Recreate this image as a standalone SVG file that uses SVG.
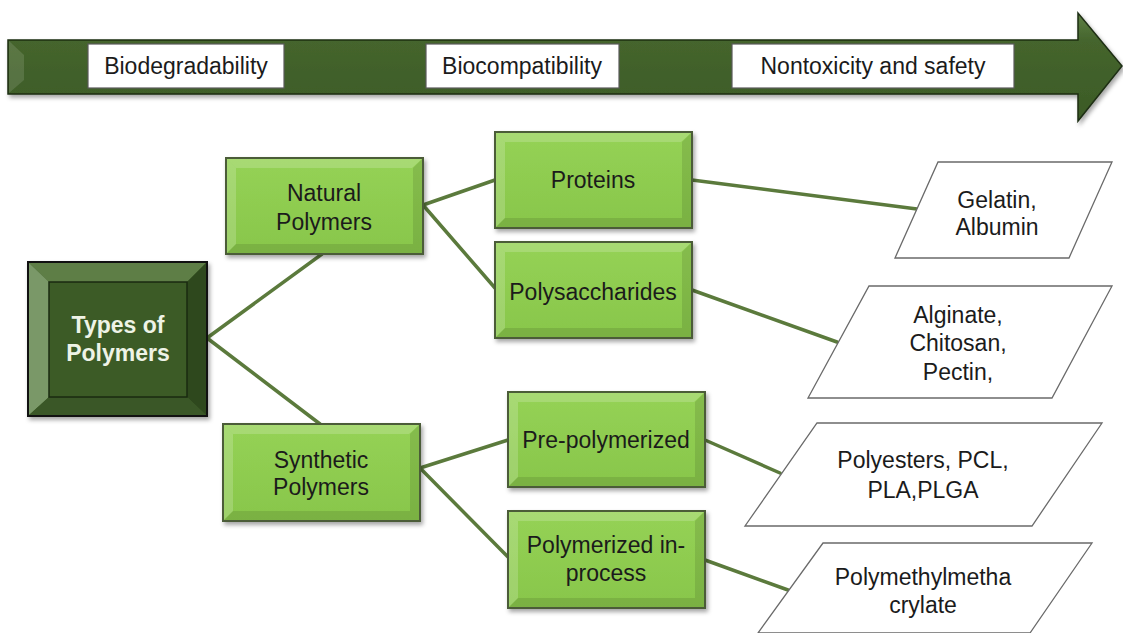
<svg xmlns="http://www.w3.org/2000/svg" width="1123" height="633" viewBox="0 0 1123 633">
<defs>
<linearGradient id="gBanner" x1="0" y1="0" x2="0" y2="1">
<stop offset="0" stop-color="#5f8045"/>
<stop offset="0.25" stop-color="#45652d"/>
<stop offset="1" stop-color="#3b5a26"/>
</linearGradient>
<linearGradient id="gBox" x1="0" y1="0" x2="0" y2="1">
<stop offset="0" stop-color="#95d255"/>
<stop offset="1" stop-color="#88c64b"/>
</linearGradient>
<filter id="sh" x="-10%" y="-10%" width="130%" height="140%">
<feDropShadow dx="2" dy="3" stdDeviation="2" flood-color="#000" flood-opacity="0.35"/>
</filter>
</defs>
<style>
.lbl{font-family:"Liberation Sans",Arial,sans-serif;font-size:23px;fill:#1b1b1b;text-anchor:middle}
.wlbl{font-family:"Liberation Sans",Arial,sans-serif;font-size:23px;font-weight:bold;fill:#eef3e6;text-anchor:middle}
.gbox{fill:url(#gBox);stroke:#4b5c38;stroke-width:2}
.bvl{fill:#ffffff;opacity:0.18}
.bvd{fill:#000000;opacity:0.10}
.wbox{fill:#ffffff;stroke:#5a5a5a;stroke-width:1.2}
.leaf{fill:#ffffff;stroke:#6a6a6a;stroke-width:1.3}
.conn{stroke:#5b7a3c;stroke-width:3.5;fill:none;stroke-linecap:round}
</style>
<rect width="1123" height="633" fill="#ffffff"/>

<g id="banner">
<path d="M8,40 H1078 V13 L1122,66 L1078,121 V94 H8 Z" fill="url(#gBanner)" stroke="#1e2e13" stroke-width="1.5" filter="url(#sh)"/>
<polygon points="9,41 24,55 24,80 9,93" fill="#ffffff" opacity="0.12"/>
<rect class="wbox" x="88" y="44" width="196" height="44"/>
<text class="lbl" x="186" y="74">Biodegradability</text>
<rect class="wbox" x="426" y="44" width="193" height="44"/>
<text class="lbl" x="522" y="74">Biocompatibility</text>
<rect class="wbox" x="732" y="44" width="282" height="44"/>
<text class="lbl" x="873" y="74">Nontoxicity and safety</text>
</g>

<g id="connectors">
<line class="conn" x1="207" y1="338" x2="322" y2="254"/>
<line class="conn" x1="207" y1="338" x2="320" y2="424"/>
<line class="conn" x1="423" y1="205" x2="495" y2="180"/>
<line class="conn" x1="423" y1="205" x2="495" y2="288"/>
<line class="conn" x1="692" y1="180" x2="917" y2="209"/>
<line class="conn" x1="692" y1="290" x2="837" y2="342"/>
<line class="conn" x1="420" y1="468" x2="508" y2="440"/>
<line class="conn" x1="420" y1="468" x2="508" y2="557"/>
<line class="conn" x1="705" y1="440" x2="780" y2="473"/>
<line class="conn" x1="705" y1="560" x2="788" y2="590"/>
</g>

<g id="types-of-polymers">
<rect x="28" y="262" width="179" height="154" fill="#3c5b26" stroke="#111" stroke-width="2" filter="url(#sh)"/>
<polygon points="28,262 207,262 187,282 49,282" fill="#5e7e46"/>
<polygon points="28,262 49,282 49,397 28,416" fill="#7a9868"/>
<polygon points="207,262 207,416 187,397 187,282" fill="#2e481d"/>
<polygon points="28,416 49,397 187,397 207,416" fill="#3a5727"/>
<rect x="49" y="282" width="138" height="115" fill="#3c5b26" stroke="#1a2a10" stroke-width="1.5"/>
<rect x="28" y="262" width="179" height="154" fill="none" stroke="#111" stroke-width="2"/>
<text class="wlbl" x="118" y="333">Types of</text>
<text class="wlbl" x="118" y="361">Polymers</text>
</g>

<g id="natural-polymers">
<rect class="gbox" x="226" y="158" width="197" height="96" filter="url(#sh)"/>
<polygon class="bvl" points="227,159 422,159 412,168 236,168"/>
<polygon class="bvl" points="227,159 236,168 236,244 227,253"/>
<polygon class="bvd" points="422,159 422,253 413,244 413,168"/>
<polygon class="bvd" points="227,253 236,244 413,244 422,253"/>
<text class="lbl" x="324" y="201">Natural</text>
<text class="lbl" x="324" y="230">Polymers</text>
</g>

<g id="proteins">
<rect class="gbox" x="495" y="132" width="197" height="96" filter="url(#sh)"/>
<polygon class="bvl" points="496,133 691,133 681,142 505,142"/>
<polygon class="bvl" points="496,133 505,142 505,218 496,227"/>
<polygon class="bvd" points="691,133 691,227 682,218 682,142"/>
<polygon class="bvd" points="496,227 505,218 682,218 691,227"/>
<text class="lbl" x="593" y="188">Proteins</text>
</g>

<g id="polysaccharides">
<rect class="gbox" x="495" y="242" width="197" height="96" filter="url(#sh)"/>
<polygon class="bvl" points="496,243 691,243 681,252 505,252"/>
<polygon class="bvl" points="496,243 505,252 505,328 496,337"/>
<polygon class="bvd" points="691,243 691,337 682,328 682,252"/>
<polygon class="bvd" points="496,337 505,328 682,328 691,337"/>
<text class="lbl" x="593" y="300">Polysaccharides</text>
</g>

<g id="synthetic-polymers">
<rect class="gbox" x="223" y="424" width="197" height="97" filter="url(#sh)"/>
<polygon class="bvl" points="224,425 419,425 409,434 233,434"/>
<polygon class="bvl" points="224,425 233,434 233,511 224,520"/>
<polygon class="bvd" points="419,425 419,520 410,511 410,434"/>
<polygon class="bvd" points="224,520 233,511 410,511 419,520"/>
<text class="lbl" x="321" y="468">Synthetic</text>
<text class="lbl" x="321" y="495">Polymers</text>
</g>

<g id="pre-polymerized">
<rect class="gbox" x="508" y="392" width="197" height="95" filter="url(#sh)"/>
<polygon class="bvl" points="509,393 704,393 694,402 518,402"/>
<polygon class="bvl" points="509,393 518,402 518,477 509,486"/>
<polygon class="bvd" points="704,393 704,486 695,477 695,402"/>
<polygon class="bvd" points="509,486 518,477 695,477 704,486"/>
<text class="lbl" x="606" y="448">Pre-polymerized</text>
</g>

<g id="polymerized-in-process">
<rect class="gbox" x="508" y="511" width="197" height="97" filter="url(#sh)"/>
<polygon class="bvl" points="509,512 704,512 694,521 518,521"/>
<polygon class="bvl" points="509,512 518,521 518,598 509,607"/>
<polygon class="bvd" points="704,512 704,607 695,598 695,521"/>
<polygon class="bvd" points="509,607 518,598 695,598 704,607"/>
<text class="lbl" x="606" y="553">Polymerized in-</text>
<text class="lbl" x="606" y="581">process</text>
</g>

<g id="gelatin-albumin">
<polygon class="leaf" points="938,162 1112,162 1069,258 895,258"/>
<text class="lbl" x="997" y="208">Gelatin,</text>
<text class="lbl" x="997" y="235">Albumin</text>
</g>

<g id="alginate-chitosan-pectin">
<polygon class="leaf" points="869,286 1112,286 1052,398 808,398"/>
<text class="lbl" x="958" y="323">Alginate,</text>
<text class="lbl" x="958" y="351">Chitosan,</text>
<text class="lbl" x="958" y="380">Pectin,</text>
</g>

<g id="polyesters">
<polygon class="leaf" points="817,423 1102,423 1032,526 745,526"/>
<text class="lbl" x="923" y="468">Polyesters, PCL,</text>
<text class="lbl" x="923" y="498">PLA,PLGA</text>
</g>

<g id="polymethylmethacrylate">
<polygon class="leaf" points="823,543 1092,543 1030,633 758,633" stroke-dasharray="0"/>
<text class="lbl" x="923" y="585">Polymethylmetha</text>
<text class="lbl" x="923" y="613">crylate</text>
</g>
</svg>
